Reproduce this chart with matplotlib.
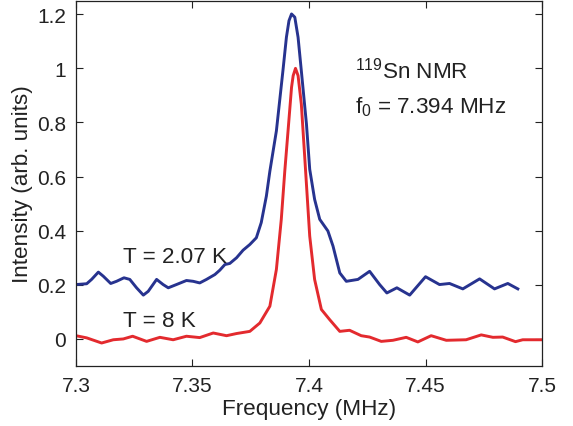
import numpy as np
import matplotlib
matplotlib.use("Agg")
import matplotlib.pyplot as plt
from matplotlib.ticker import FuncFormatter

plt.rcParams['font.family'] = ['Liberation Sans', 'DejaVu Sans']
plt.rcParams['mathtext.fontset'] = 'custom'
plt.rcParams['mathtext.rm'] = 'Liberation Sans'
plt.rcParams['mathtext.it'] = 'Liberation Sans:italic'

# T = 2.07 K spectrum
f_low = [7.3000, 7.3046, 7.3067, 7.3096, 7.3117, 7.3149, 7.3174, 7.3206, 7.3231, 7.3260,
         7.3289, 7.3310, 7.3346, 7.3374, 7.3396, 7.3431, 7.3474, 7.3503, 7.3531, 7.3560,
         7.3596, 7.3617, 7.3639, 7.3660, 7.3689, 7.3717, 7.3746, 7.3774, 7.3795, 7.3817,
         7.3832, 7.3860, 7.3888, 7.3903, 7.3914, 7.3925, 7.3939, 7.3953, 7.3967, 7.3989,
         7.4003, 7.4024, 7.4046, 7.4081, 7.4103, 7.4132, 7.4160, 7.4210, 7.4260, 7.4303,
         7.4334, 7.4377, 7.4432, 7.4500, 7.4560, 7.4603, 7.4660, 7.4732, 7.4796, 7.4853,
         7.4896]
i_low = [0.201, 0.204, 0.220, 0.247, 0.232, 0.205, 0.213, 0.226, 0.220, 0.189,
         0.162, 0.176, 0.220, 0.201, 0.189, 0.201, 0.216, 0.213, 0.207, 0.220,
         0.238, 0.254, 0.275, 0.279, 0.300, 0.328, 0.349, 0.374, 0.430, 0.528,
         0.620, 0.769, 0.991, 1.115, 1.176, 1.201, 1.189, 1.115, 0.991, 0.794,
         0.627, 0.516, 0.442, 0.399, 0.343, 0.244, 0.213, 0.220, 0.250, 0.201,
         0.170, 0.189, 0.162, 0.230, 0.201, 0.205, 0.185, 0.222, 0.185, 0.205,
         0.185]

# T = 8 K spectrum
f_high = [7.3000, 7.3046, 7.3110, 7.3160, 7.3203, 7.3243, 7.3303, 7.3360, 7.3417, 7.3474,
          7.3531, 7.3589, 7.3646, 7.3689, 7.3746, 7.3789, 7.3832, 7.3860, 7.3881, 7.3896,
          7.3910, 7.3925, 7.3932, 7.3942, 7.3953, 7.3967, 7.3981, 7.4003, 7.4024, 7.4053,
          7.4089, 7.4132, 7.4174, 7.4224, 7.4260, 7.4310, 7.4360, 7.4417, 7.4467, 7.4524,
          7.4589, 7.4674, 7.4739, 7.4789, 7.4831, 7.4886, 7.4917, 7.5000]
i_high = [0.012, 0.004, -0.015, -0.003, 0.000, 0.010, -0.009, 0.006, -0.003, 0.010,
          0.005, 0.022, 0.012, 0.020, 0.028, 0.059, 0.121, 0.257, 0.442, 0.620,
          0.769, 0.930, 0.973, 1.000, 0.973, 0.868, 0.680, 0.380, 0.220, 0.109,
          0.071, 0.028, 0.032, 0.012, 0.007, -0.009, -0.005, 0.006, -0.011, 0.012,
          -0.005, -0.003, 0.015, 0.006, 0.007, -0.010, -0.003, -0.003]

x_ticks = [7.3, 7.35, 7.4, 7.45, 7.5]
y_ticks = [0, 0.2, 0.4, 0.6, 0.8, 1.0, 1.2]

fig = plt.figure(figsize=(5.73, 4.27), dpi=100)
ax = fig.add_axes([0.1326, 0.1405, 0.946 - 0.1326, 0.996 - 0.1405])

ax.plot(f_low, i_low, color="#27338f", linewidth=2.1, solid_joinstyle="round")
ax.plot(f_high, i_high, color="#e32a2e", linewidth=2.1, solid_joinstyle="round")

ax.set_xlim(7.3, 7.5)
ax.set_ylim(-0.1, 1.25)
ax.set_xticks(x_ticks)
ax.set_yticks(y_ticks)
ax.xaxis.set_major_formatter(FuncFormatter(lambda v, p: f"{v:g}"))
ax.yaxis.set_major_formatter(FuncFormatter(lambda v, p: f"{v:g}"))
ax.tick_params(direction="in", top=True, right=True, labelsize=15,
               length=5, width=0.8, colors="#222222", pad=7)
for s in ax.spines.values():
    s.set_linewidth(0.9)
    s.set_color("#222222")

ax.set_xlabel("Frequency (MHz)", fontsize=16.2, color="#222222", labelpad=2)
ax.set_ylabel("Intensity (arb. units)", fontsize=16.2, color="#222222", labelpad=3)

ax.text(7.3201, 0.286, "T = 2.07 K", fontsize=16.2, color="#222222")
ax.text(7.3201, 0.049, "T = 8 K", fontsize=16.2, color="#222222")
ax.text(7.4196, 0.968, r"$^{119}$Sn NMR", fontsize=16.2, color="#222222")
ax.text(7.4196, 0.838, r"f$_0$ = 7.394 MHz", fontsize=16.2, color="#222222")

fig.savefig("out.png", dpi=100)
